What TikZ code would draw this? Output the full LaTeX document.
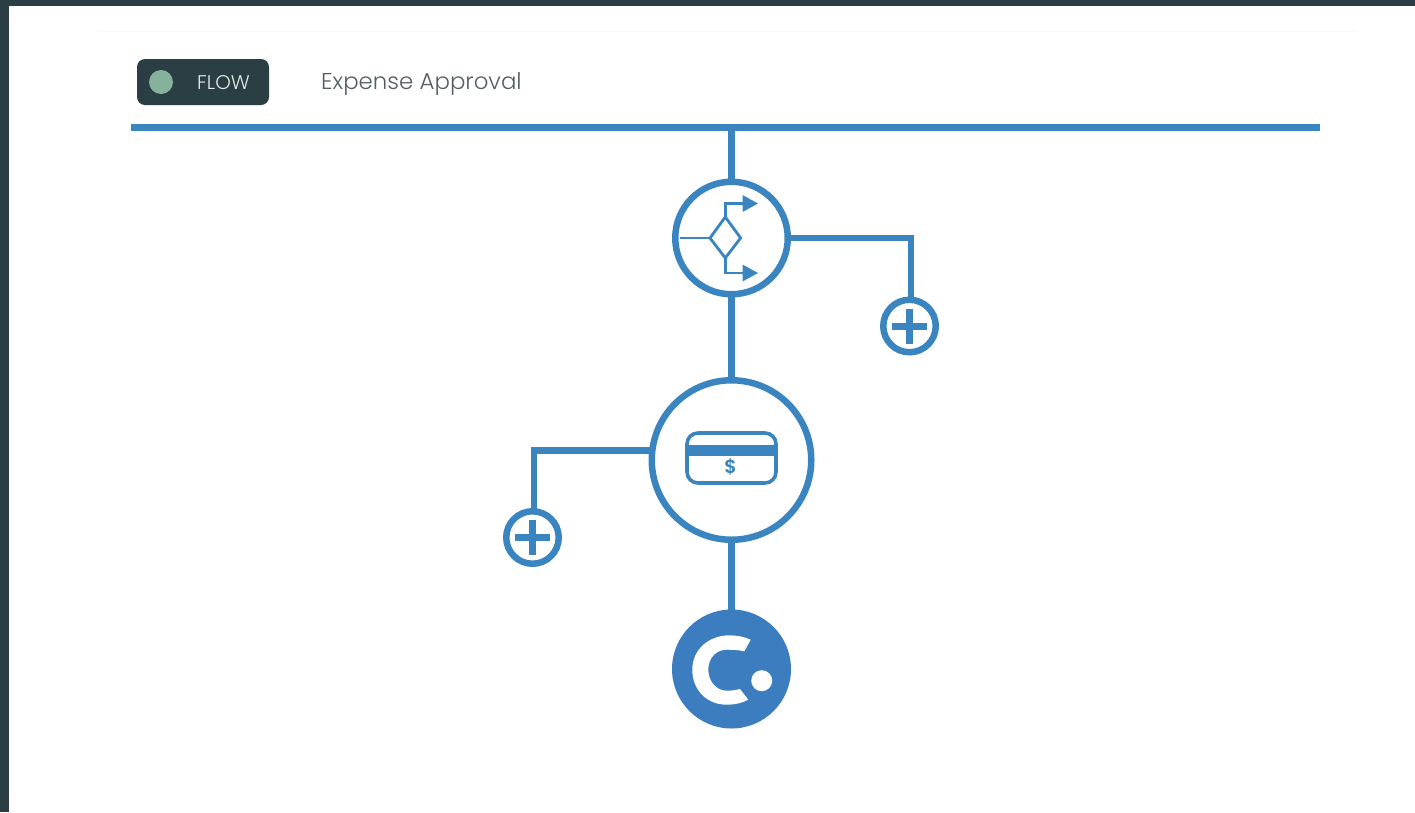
\documentclass[tikz,border=0pt]{standalone}
\usepackage{fontspec}
\setmainfont{Poppins Light}
\definecolor{framedark}{HTML}{2B3E44}
\definecolor{flowblue}{HTML}{3A85BF}
\definecolor{logoblue}{HTML}{3B7DBF}
\definecolor{dotgreen}{HTML}{86B29C}
\definecolor{titlegrey}{HTML}{555E62}
\definecolor{faintline}{HTML}{F8F9F9}
\tikzset{
  x=1pt,y=-1pt,
  ring/.style={circle,draw=flowblue,fill=white,line width=6.5pt,inner sep=0pt,outer sep=0pt},
  linkline/.style={draw=flowblue,line width=6.5pt},
  thinline/.style={draw=flowblue,line width=2.8pt},
  plusbar/.style={draw=flowblue,line width=7pt},
}
\begin{document}
\begin{tikzpicture}
\useasboundingbox (0,0) rectangle (1415,812);
\fill[white] (0,0) rectangle (1415,812);
\fill[framedark] (0,0) rectangle (1415,6);
\fill[framedark] (0,0) rectangle (9,812);
\draw[faintline,line width=1pt] (98,31) -- (1355,31);
% header
\fill[framedark,rounded corners=8pt] (137,59) rectangle (269,105);
\node[circle,fill=dotgreen,minimum size=24pt,inner sep=0pt] (flowdot) at (161,82) {};
\node[text=white!88!framedark,font=\fontsize{19.8}{20}\selectfont,inner sep=0pt] (flowlabel) at (223.5,82.5) {FLOW};
\node[text=titlegrey,font=\fontsize{22.9}{26}\selectfont,anchor=west,inner sep=0pt] (title) at (321,83.5) {Expense Approval};
\node[fill=flowblue,inner sep=0pt,outer sep=0pt,minimum width=1189pt,minimum height=7pt] (bar) at (725.5,127.5) {};
% nodes
\node[ring,minimum size=112.5pt] (decision) at (731.5,238) {};
\node[ring,minimum size=159.5pt] (card) at (731.5,460) {};
\node[ring,minimum size=52.5pt] (plusR) at (909.5,326) {};
\node[ring,minimum size=52.5pt] (plusL) at (532.5,537.5) {};
\node[circle,fill=logoblue,minimum size=119pt,inner sep=0pt,outer sep=0pt] (logo) at (731.5,669) {};
% connectors
\draw[linkline] (bar.south -| decision.north) -- (decision.north);
\draw[linkline] (decision.south) -- (card.north);
\draw[linkline] (card.south) -- (logo.north);
\draw[linkline,miter limit=10] (decision.east) -| ([xshift=1.5pt]plusR.north);
\draw[linkline,miter limit=10] (card.173.5) -| ([xshift=1.5pt]plusL.north);
% plus signs
\draw[plusbar] (892,326) -- (927,326) (909.5,309) -- (909.5,344);
\draw[plusbar] (515,537.5) -- (550,537.5) (532.5,520) -- (532.5,555);
% decision icon
\draw[thinline,line join=miter] (710,238) -- (725.3,217) -- (740.6,238) -- (725.3,258) -- cycle;
\draw[thinline] (680,238) -- (710,238);
\draw[thinline] (725.3,217) -- (725.3,203.5) -- (744,203.5);
\draw[thinline] (725.3,258) -- (725.3,273) -- (744,273);
\fill[flowblue] (742.5,195) -- (758,203.5) -- (742.5,212) -- cycle;
\fill[flowblue] (742.5,264.5) -- (758,273) -- (742.5,281.5) -- cycle;
% card icon
\draw[draw=flowblue,line width=3.6pt,rounded corners=11pt] (687,433) rectangle (776,483);
\fill[flowblue] (686,445) rectangle (777,456);
\node[text=flowblue,font=\fontsize{19}{20}\selectfont\bfseries,inner sep=0pt] (dollar) at (730.7,467.3) {\$};
% logo
\fill[white] (750.7,639.7) .. controls (744,636.8) and (737,635.3) .. (730,635.3)
  .. controls (708,635.3) and (692.3,650) .. (692.3,669.7)
  .. controls (692.3,690) and (707,704.7) .. (726.7,704.7)
  .. controls (735,704.7) and (742,703) .. (748.3,699.7)
  -- (740,689)
  .. controls (735.5,690.2) and (731,690.7) .. (726.7,690.7)
  .. controls (716,690.7) and (708.3,681) .. (708.3,669.7)
  .. controls (708.3,658) and (716,649.7) .. (726.7,649.7)
  .. controls (733,649.7) and (739,650) .. (744.3,651.3)
  -- cycle;
\fill[white] (761.7,680.7) circle[radius=10.5];
\end{tikzpicture}
\end{document}
